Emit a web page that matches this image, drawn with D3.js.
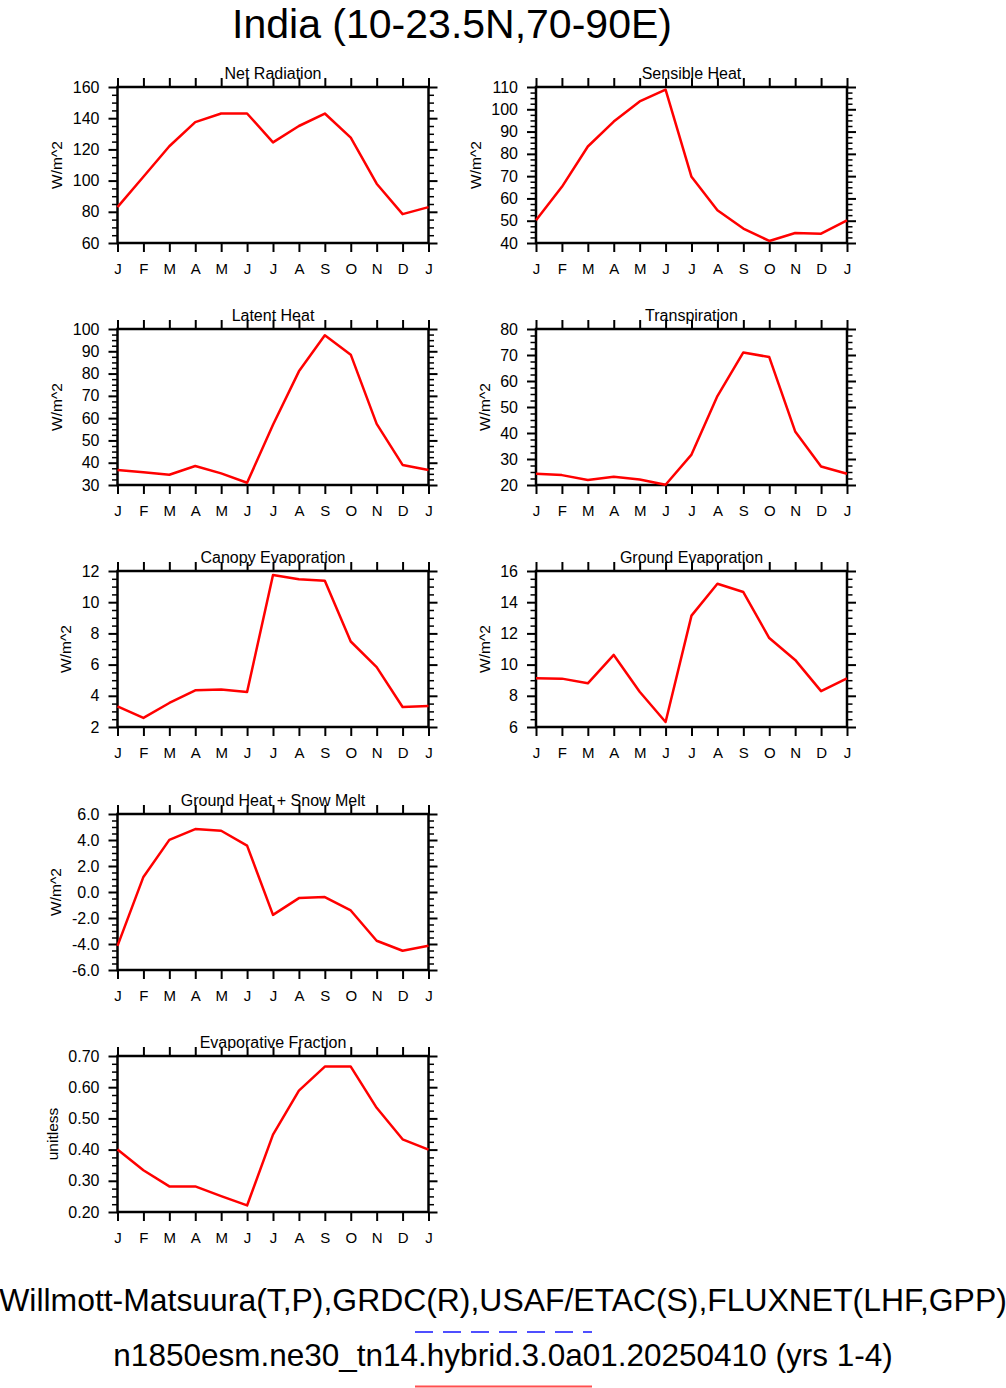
<!DOCTYPE html>
<html>
<head>
<meta charset="utf-8">
<script src="https://cdn.jsdelivr.net/npm/d3@7"></script>
<style>
  body { margin: 0; background: #fff; }
  svg { display: block; }
</style>
</head>
<body>
<script>
var FONT = "'Liberation Sans', Arial, Helvetica, sans-serif";

// month labels along x (January repeated at the end)
var months = ["J", "F", "M", "A", "M", "J", "J", "A", "S", "O", "N", "D", "J"];

// monthly values, Jan..Dec + Jan
var netRadiation   = [83, 102.5, 122, 137.5, 143, 143, 124.5, 135, 143, 127.5, 98, 78.5, 83];
var sensibleHeat   = [50.2, 65.2, 83.3, 94.5, 103.5, 108.8, 69.7, 54.7, 46.5, 40.9, 44.5, 44.2, 50.2];
var latentHeat     = [36.7, 35.7, 34.6, 38.5, 35.2, 31.0, 57, 81, 97.2, 88.5, 57.4, 39, 36.7];
var transpiration  = [24.3, 23.8, 21.9, 23.2, 22.1, 20.1, 31.7, 54.2, 71, 69.2, 40.6, 27.1, 24.3];
var canopyEvap     = [3.32, 2.58, 3.54, 4.35, 4.41, 4.24, 11.74, 11.47, 11.38, 7.48, 5.84, 3.28, 3.34];
var groundEvap     = [9.12, 9.1, 8.8, 10.62, 8.26, 6.32, 13.14, 15.18, 14.65, 11.7, 10.3, 8.3, 9.12];
var groundHeat     = [-4.14, 1.16, 4.01, 4.84, 4.71, 3.57, -1.76, -0.47, -0.39, -1.42, -3.75, -4.52, -4.14];
var evapFraction   = [0.400, 0.334, 0.282, 0.282, 0.251, 0.221, 0.448, 0.589, 0.666, 0.666, 0.534, 0.433, 0.400];

// y tick values per panel
var netRadTicks    = [60, 80, 100, 120, 140, 160];
var sensibleTicks  = [40, 50, 60, 70, 80, 90, 100, 110];
var latentTicks    = [30, 40, 50, 60, 70, 80, 90, 100];
var transpTicks    = [20, 30, 40, 50, 60, 70, 80];
var canopyTicks    = [2, 4, 6, 8, 10, 12];
var groundEvTicks  = [6, 8, 10, 12, 14, 16];
var groundHtTicks  = [-6, -4, -2, 0, 2, 4, 6];
var evapFracTicks  = [0.2, 0.3, 0.4, 0.5, 0.6, 0.7];

var panels = [
    {title: "Net Radiation", units: "W/m^2", values: netRadiation, ticks: netRadTicks, digits: 0},
    {title: "Sensible Heat", units: "W/m^2", values: sensibleHeat, ticks: sensibleTicks, digits: 0},
    {title: "Latent Heat", units: "W/m^2", values: latentHeat, ticks: latentTicks, digits: 0},
    {title: "Transpiration", units: "W/m^2", values: transpiration, ticks: transpTicks, digits: 0},
    {title: "Canopy Evaporation", units: "W/m^2", values: canopyEvap, ticks: canopyTicks, digits: 0},
    {title: "Ground Evaporation", units: "W/m^2", values: groundEvap, ticks: groundEvTicks, digits: 0},
    {title: "Ground Heat + Snow Melt", units: "W/m^2", values: groundHeat, ticks: groundHtTicks, digits: 1},
    {title: "Evaporative Fraction", units: "unitless", values: evapFraction, ticks: evapFracTicks, digits: 2}
];

var mainTitle = "India (10-23.5N,70-90E)";
var footer1 = "Willmott-Matsuura(T,P),GRDC(R),USAF/ETAC(S),FLUXNET(LHF,GPP)";
var footer2 = "n1850esm.ne30_tn14.hybrid.3.0a01.20250410 (yrs 1-4)";

var width = 1006, height = 1388;
var colX = [117.5, 536], rowY = [87, 329, 571, 814, 1056];
var plotW = 311, plotH = 156;
// [col, row] slot of each panel; last two rows only use the left column
var slots = [[0, 0], [1, 0], [0, 1], [1, 1], [0, 2], [1, 2], [0, 3], [0, 4]];

var svg = d3.select("body").append("svg")
    .attr("width", width)
    .attr("height", height)
    .style("font-family", FONT);

svg.append("text")
    .attr("x", 452).attr("y", 38)
    .attr("text-anchor", "middle")
    .attr("font-size", 41)
    .text(mainTitle);

// 3 minor ticks between each pair of majors
function minorTicks(ticks) {
    var out = [];
    for (var i = 0; i < ticks.length - 1; i++) {
        var step = (ticks[i + 1] - ticks[i]) / 4;
        for (var k = 1; k < 4; k++) out.push(ticks[i] + k * step);
    }
    return out;
}

function styleAxis(g) {
    g.select(".domain").remove();
    g.attr("font-family", FONT).attr("font-size", 16);
    g.selectAll(".tick line").attr("stroke-width", 2);
}

panels.forEach(function (p, i) {
    var g = svg.append("g")
        .attr("transform", "translate(" + colX[slots[i][0]] + "," + rowY[slots[i][1]] + ")");

    var x = d3.scaleLinear().domain([0, 12]).range([0, plotW]);
    var y = d3.scaleLinear().domain(d3.extent(p.ticks)).range([plotH, 0]);
    var minor = minorTicks(p.ticks);

    // minor ticks, left and right
    g.append("g").call(d3.axisLeft(y).tickValues(minor).tickSize(5.5).tickFormat(""))
        .call(styleAxis).selectAll(".tick line").attr("stroke-width", 1.5);
    g.append("g").attr("transform", "translate(" + plotW + ",0)")
        .call(d3.axisRight(y).tickValues(minor).tickSize(5.5).tickFormat(""))
        .call(styleAxis).selectAll(".tick line").attr("stroke-width", 1.5);

    // major ticks
    var yAxisG = g.append("g")
        .call(d3.axisLeft(y).tickValues(p.ticks).tickSize(9).tickPadding(9)
            .tickFormat(function (d) { return d.toFixed(p.digits); }))
        .call(styleAxis);
    g.append("g").attr("transform", "translate(" + plotW + ",0)")
        .call(d3.axisRight(y).tickValues(p.ticks).tickSize(9).tickFormat(""))
        .call(styleAxis);

    g.append("g").attr("transform", "translate(0," + plotH + ")")
        .call(d3.axisBottom(x).tickValues(d3.range(13)).tickSize(9).tickPadding(11)
            .tickFormat(function (d) { return months[d]; }))
        .call(styleAxis)
        .attr("font-size", 15);
    g.append("g")
        .call(d3.axisTop(x).tickValues(d3.range(13)).tickSize(9).tickFormat(""))
        .call(styleAxis);

    g.append("rect")
        .attr("width", plotW).attr("height", plotH)
        .attr("fill", "none").attr("stroke", "#000").attr("stroke-width", 2.5);

    g.append("path")
        .datum(p.values)
        .attr("fill", "none")
        .attr("stroke", "#ff0000")
        .attr("stroke-width", 2.5)
        .attr("stroke-linejoin", "round")
        .attr("d", d3.line().x(function (d, j) { return x(j); }).y(function (d) { return y(d); }));

    g.append("text")
        .attr("x", plotW / 2).attr("y", -8.4)
        .attr("text-anchor", "middle")
        .attr("font-size", 16)
        .text(p.title);

    // units label sits left of the widest tick label
    var bb = yAxisG.node().getBBox();
    g.append("text")
        .attr("transform", "translate(" + (bb.x - 16) + "," + (plotH / 2) + ") rotate(-90)")
        .attr("dy", "0.35em")
        .attr("text-anchor", "middle")
        .attr("font-size", 15.5)
        .text(p.units);
});

// footer: data sources and case name with their line styles
svg.append("text")
    .attr("x", 503).attr("y", 1311)
    .attr("text-anchor", "middle")
    .attr("font-size", 31.9)
    .text(footer1);
svg.append("line")
    .attr("x1", 415).attr("x2", 592).attr("y1", 1332).attr("y2", 1332)
    .attr("stroke", "#4f4fff").attr("stroke-width", 2)
    .attr("stroke-dasharray", "18,10");
svg.append("text")
    .attr("x", 503).attr("y", 1366)
    .attr("text-anchor", "middle")
    .attr("font-size", 31.5)
    .text(footer2);
svg.append("line")
    .attr("x1", 415).attr("x2", 592).attr("y1", 1386.5).attr("y2", 1386.5)
    .attr("stroke", "#ff4f4f").attr("stroke-width", 2);
</script>
</body>
</html>
